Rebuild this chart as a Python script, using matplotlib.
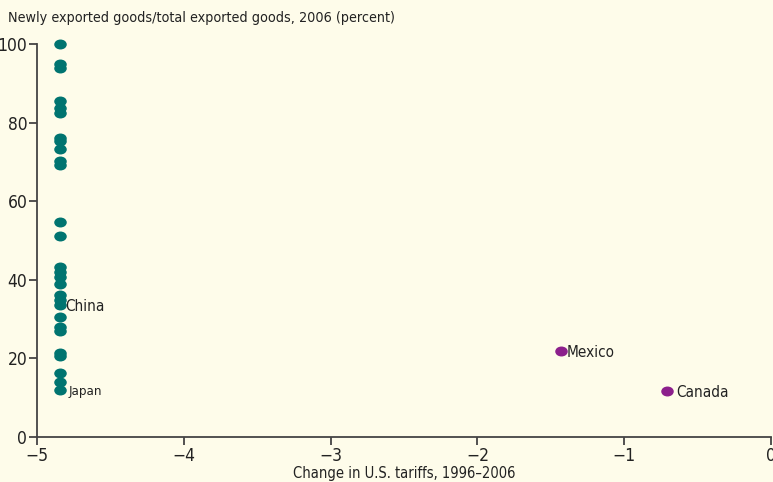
"""Cambio de aranceles de EE.UU. vs proporcion de bienes nuevos exportados."""
import matplotlib
matplotlib.use("Agg")
import matplotlib.pyplot as plt
from matplotlib.path import Path
from matplotlib.transforms import Affine2D
from matplotlib.font_manager import fontManager

# datos
asia_x = -4.84
asia_y = [100, 95, 94, 85.6, 83.6, 82.5, 76.2, 75.2, 73.4, 70.3, 69.3, 54.8, 51.2,
          43.3, 42.0, 40.8, 39.0, 36.1, 34.9, 33.6, 30.6, 28.0, 27.0, 21.5, 20.6,
          16.2, 14.1, 12.0]
nafta_x = [-1.43, -0.71]
nafta_y = [21.9, 11.7]
etiquetas = [("China", -4.84, 33.6), ("Japan", -4.84, 12.0),
             ("Mexico", -1.43, 21.9), ("Canada", -0.71, 11.7)]

nombres = {f.name for f in fontManager.ttflist}
if "Liberation Sans Narrow" in nombres:
    plt.rcParams["font.family"] = ["Liberation Sans Narrow", "DejaVu Sans"]
else:
    plt.rcParams["font.family"] = ["DejaVu Sans"]
    plt.rcParams["font.stretch"] = "condensed"

FONDO = "#fefcea"
TEAL = "#007470"
MORADO = "#8c1f8c"

# marcador eliptico (algo mas ancho que alto)
elipse = Path.unit_circle().transformed(Affine2D().scale(1.3, 1.0))

fig = plt.figure(figsize=(7.73, 4.82), dpi=100, facecolor=FONDO)
ax = fig.add_axes([37 / 773, 45 / 482, 734 / 773, 393 / 482])
ax.set_facecolor(FONDO)

ax.plot([asia_x] * len(asia_y), asia_y, ls="none", marker=elipse, ms=8,
        color=TEAL, clip_on=False)
ax.plot(nafta_x, nafta_y, ls="none", marker=elipse, ms=8, color=MORADO, clip_on=False)

desplaz = {"China": 3.5, "Japan": 6, "Mexico": 4, "Canada": 7}
for txt, x, y in etiquetas:
    ax.annotate(txt, (x, y), xytext=(desplaz[txt], -1), textcoords="offset points",
                va="center", fontsize=9.5 if txt == "Japan" else 11, color="#222222")

ax.set_xlim(-5, 0)
ax.set_ylim(0, 100)
ax.set_xticks([-5, -4, -3, -2, -1, 0])
ax.set_xticklabels(["\u22125", "\u22124", "\u22123", "\u22122", "\u22121", "0"])
ax.set_yticks([0, 20, 40, 60, 80, 100])
for s in ["top", "right"]:
    ax.spines[s].set_visible(False)
for s in ["left", "bottom"]:
    ax.spines[s].set_color("#444444")
    ax.spines[s].set_linewidth(1.3)
ax.tick_params(length=6, width=1.3, color="#444444", labelsize=12.5,
               labelcolor="#222222", pad=1)

ax.set_xlabel("Change in U.S. tariffs, 1996\u20132006", fontsize=10.5,
              color="#222222", labelpad=1)
fig.text(8 / 773, 1 - 18 / 482, "Newly exported goods/total exported goods, 2006 (percent)",
         fontsize=10.3, color="#222222", va="center", ha="left")

fig.savefig("out.png", dpi=100, facecolor=FONDO)
plt.close(fig)
